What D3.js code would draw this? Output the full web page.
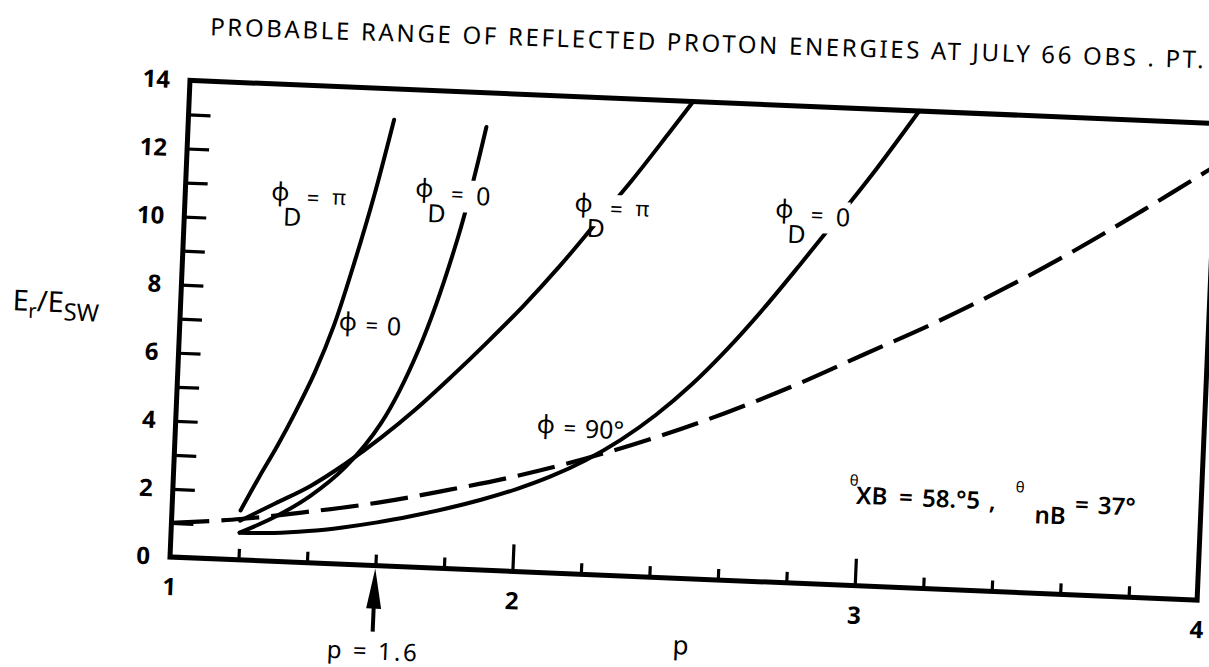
<!DOCTYPE html>
<html>
<head>
<meta charset="utf-8">
<script src="https://cdn.jsdelivr.net/npm/d3@7"></script>
<style>
  html, body { margin: 0; padding: 0; background: #fff; }
  svg { display: block; }
</style>
</head>
<body>
<svg id="chart" width="1209" height="667"></svg>
<script>
// Reflected proton energy ratio E_r/E_SW against p, one list of [p, E] per curve
const phi0PhiDPi   = [[1.2,1.45],[1.25,2.45],[1.3,3.4],[1.35,4.45],[1.4,5.6],[1.45,7.0],[1.5,8.8],[1.55,10.8],[1.6,13.1]];
const phi0PhiD0    = [[1.2,0.8],[1.3,1.3],[1.4,1.95],[1.5,2.85],[1.6,4.2],[1.7,6.4],[1.8,9.7],[1.87,13.0]];
const phi90PhiDPi  = [[1.2,1.15],[1.3,1.7],[1.4,2.25],[1.5,2.95],[1.6,3.75],[1.7,4.65],[1.8,5.65],[1.9,6.7],[2.0,7.8],[2.1,9.0],[2.2,10.3],[2.3,11.6],[2.4,13.0],[2.47,14.0]];
const phi90PhiD0   = [[1.2,0.8],[1.3,0.83],[1.4,0.93],[1.5,1.08],[1.6,1.27],[1.7,1.5],[1.8,1.76],[1.9,2.06],[2.0,2.41],[2.1,2.83],[2.2,3.35],[2.3,3.99],[2.4,4.77],[2.5,5.7],[2.6,6.79],[2.7,8.01],[2.8,9.33],[2.9,10.69],[3.0,12.07],[3.13,14.0]];
const pZero        = [[1.0,1.0],[1.2,1.2],[1.4,1.5],[1.6,1.85],[1.8,2.3],[2.0,2.8],[2.2,3.4],[2.4,4.1],[2.6,4.9],[2.8,5.8],[3.0,6.8],[3.2,7.8],[3.4,8.9],[3.6,10.1],[3.8,11.4],[4.0,12.75]];

// Axis ticks and labels
const xMinorTicks = [1.2,1.4,1.6,1.8,2.2,2.4,2.6,2.8,3.2,3.4,3.6,3.8];
const xMajorTicks = [2,3];
const xTickLabels = [1,2,3,4];
const yMinorTicks = [1,2,3,4,5,6,7,8,9,10,11,12,13];
const yTickLabels = [0,2,4,6,8,10,12,14];

// Curve annotations, placed at [p, E] of the phi glyph
const phiDLabels = [
  { p: 1.277, E: 10.77, value: "π" },
  { p: 1.697, E: 11.05, value: "0" },
  { p: 2.163, E: 10.81, value: "π" },
  { p: 2.749, E: 10.88, value: "0" }
];
const phiGroupLabels = [
  { p: 1.49, E: 7.07, value: "0" },
  { p: 2.08, E: 4.3, value: "90°" }
];
const markedP = 1.6;

const FONT = '"Noto Sans", "DejaVu Sans", sans-serif';
const W = 1028, H = 477;
const x = d3.scaleLinear().domain([1, 4]).range([0, W]);
const y = d3.scaleLinear().domain([0, 14]).range([0, -H]);

const svg = d3.select("#chart");
svg.append("rect").attr("width", 1209).attr("height", 667).attr("fill", "#fff");

// the sheet sits slightly turned on the page
const plot = svg.append("g").attr("transform", "translate(170,557) rotate(2.4)");

// title
plot.append("text")
  .attr("x", 18).attr("y", -523)
  .attr("transform", "rotate(-0.5,18,-523)")
  .attr("font-family", FONT).attr("font-size", 24)
  .attr("textLength", 994).attr("lengthAdjust", "spacing")
  .text("PROBABLE RANGE OF REFLECTED PROTON ENERGIES AT JULY 66  OBS . PT.");

// frame
plot.append("path")
  .attr("d", d3.line()([[x(1), y(14)], [x(4), y(14)], [x(4), y(0)], [x(1), y(0)]]) + "Z")
  .attr("fill", "none").attr("stroke", "#000").attr("stroke-width", 5)
  .attr("stroke-linejoin", "miter");

const tickStyle = s => {
  s.select(".domain").remove();
  s.selectAll(".tick line").attr("stroke", "#000").attr("stroke-width", 3.2);
};
plot.append("g").call(d3.axisBottom(x).tickValues(xMinorTicks).tickSize(-11).tickFormat("")).call(tickStyle);
plot.append("g").call(d3.axisBottom(x).tickValues(xMajorTicks).tickSize(-27).tickFormat("")).call(tickStyle);
plot.append("g").call(d3.axisLeft(y).tickValues(yMinorTicks).tickSize(-22).tickFormat("")).call(tickStyle);

const labelStyle = s => {
  s.select(".domain").remove();
  s.selectAll("text").attr("font-family", FONT).attr("font-size", 24)
    .attr("font-weight", 700).attr("fill", "#000");
};
plot.append("g").call(d3.axisLeft(y).tickValues(yTickLabels).tickSize(0).tickPadding(20).tickFormat(d3.format("d"))).call(labelStyle);
plot.append("g").call(d3.axisBottom(x).tickValues(xTickLabels).tickSize(0).tickPadding(21).tickFormat(d3.format("d"))).call(labelStyle);

// axis titles
const yTitle = plot.append("text")
  .attr("x", -168).attr("y", -240)
  .attr("font-family", FONT).attr("font-size", 29).attr("fill", "#000");
yTitle.append("tspan").text("E");
yTitle.append("tspan").attr("font-size", 20).attr("dy", 7).text("r");
yTitle.append("tspan").attr("dy", -7).text("/E");
yTitle.append("tspan").attr("font-size", 24).attr("dy", 8).text("SW");

plot.append("text")
  .attr("x", x(2.5)).attr("y", 76).attr("text-anchor", "middle")
  .attr("font-family", FONT).attr("font-size", 26).text("p");

// p = 1.6 marker arrow
const ax = x(markedP);
plot.append("path")
  .attr("d", `M${ax},3 L${ax - 7.5},43 L${ax + 7.5},43 Z`).attr("fill", "#000");
plot.append("line")
  .attr("x1", ax).attr("x2", ax).attr("y1", 40).attr("y2", 66)
  .attr("stroke", "#000").attr("stroke-width", 4);
plot.append("text")
  .attr("x", ax - 45).attr("y", 94)
  .attr("font-family", FONT).attr("font-size", 24)
  .attr("textLength", 90).attr("lengthAdjust", "spacing").text("p = 1.6");

// label breaks in the solid curves
const mask = plot.append("defs").append("mask")
  .attr("id", "labelGaps").attr("maskUnits", "userSpaceOnUse")
  .attr("x", -300).attr("y", -700).attr("width", 1600).attr("height", 900);
mask.append("rect").attr("x", -300).attr("y", -700).attr("width", 1600).attr("height", 900).attr("fill", "#fff");
mask.selectAll("rect.gap").data(phiDLabels).join("rect").attr("class", "gap")
  .attr("x", d => x(d.p) + 6).attr("y", d => y(d.E) - 12)
  .attr("width", 60).attr("height", 32).attr("fill", "#000");

const line = d3.line().x(d => x(d[0])).y(d => y(d[1])).curve(d3.curveCatmullRom.alpha(0.5));

plot.append("g").attr("mask", "url(#labelGaps)")
  .selectAll("path").data([phi0PhiDPi, phi0PhiD0, phi90PhiDPi, phi90PhiD0]).join("path")
  .attr("d", line).attr("fill", "none").attr("stroke", "#000")
  .attr("stroke-width", 4).attr("stroke-linecap", "round");

plot.append("path").datum(pZero)
  .attr("d", line).attr("fill", "none").attr("stroke", "#000")
  .attr("stroke-width", 4.2).attr("stroke-dasharray", "38 12");

// phi_D labels
const lab = plot.append("g").attr("font-family", FONT).attr("fill", "#000");
phiDLabels.forEach(d => {
  const u = x(d.p), v = y(d.E);
  lab.append("text").attr("x", u).attr("y", v + 6).attr("text-anchor", "middle").attr("font-size", 25).text("ϕ");
  lab.append("text").attr("x", u + 13).attr("y", v + 31).attr("text-anchor", "middle").attr("font-size", 25).text("D");
  lab.append("text").attr("x", u + 33).attr("y", v + 10).attr("text-anchor", "middle").attr("font-size", 22).text("=");
  lab.append("text").attr("x", u + 59).attr("y", v + (d.value === "π" ? 8 : 12)).attr("text-anchor", "middle")
    .attr("font-size", d.value === "π" ? 21 : 25).text(d.value);
});
phiGroupLabels.forEach(d => {
  const u = x(d.p), v = y(d.E);
  lab.append("text").attr("x", u).attr("y", v + 7).attr("text-anchor", "middle").attr("font-size", 25).text("ϕ");
  lab.append("text").attr("x", u + 24).attr("y", v + 9).attr("text-anchor", "middle").attr("font-size", 22).text("=");
  lab.append("text").attr("x", u + 39).attr("y", v + 10).attr("font-size", 25).text(d.value);
});

// angle note
const note = plot.append("g").attr("font-family", FONT).attr("fill", "#000");
const noteX = 676, noteY = -82;
[
  { dx: 0,   dy: -18, size: 15, weight: 400, t: "θ" },
  { dx: 7,   dy: 0,   size: 24, weight: 600, t: "XB" },
  { dx: 50,  dy: 0,   size: 24, weight: 600, t: "=" },
  { dx: 73,  dy: 0,   size: 24, weight: 600, t: "58.°5" },
  { dx: 140, dy: 0,   size: 24, weight: 600, t: "," },
  { dx: 166, dy: -18, size: 15, weight: 400, t: "θ" },
  { dx: 186, dy: 12,  size: 24, weight: 600, t: "nB" },
  { dx: 226, dy: 0,   size: 24, weight: 600, t: "=" },
  { dx: 249, dy: 0,   size: 24, weight: 600, t: "37°" }
].forEach(p => {
  note.append("text").attr("x", noteX + p.dx).attr("y", noteY + p.dy)
    .attr("font-size", p.size).attr("font-weight", p.weight).text(p.t);
});
</script>
</body>
</html>
